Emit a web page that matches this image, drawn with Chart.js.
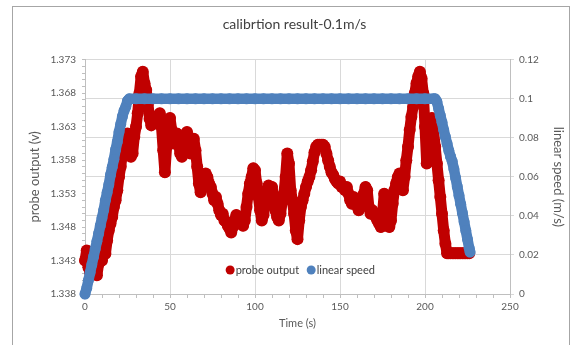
<!DOCTYPE html>
<html lang="en">
<head>
<meta charset="UTF-8">
<title>calibrtion result-0.1m/s</title>
<style>
  body { margin: 0; background: #fff; overflow: hidden; }
  .frame { position: absolute; left: 12px; top: 6px; width: 556px; height: 400px; border: 1px solid #a6a6a6; }
  #chart { position: absolute; left: 0; top: 0; }
</style>
</head>
<body>
<div class="frame"></div>
<canvas id="chart" width="571" height="345"></canvas>
<script src="https://cdn.jsdelivr.net/npm/chart.js"></script>
<script>
// probe output (V) vs time (s)
const probeTime = [
  0,1,2,3,4,5,6,7,8,9,10,11,12,13,14,15,16,17,18,19,20,21,22,23,24,25,26,27,28,29,
  30,31,32,33,34,35,36,37,38,39,40,41,42,43,44,45,46,47,48,49,50,51,52,53,54,55,56,57,58,59,
  60,61,62,63,64,65,66,67,68,69,70,71,72,73,74,75,76,77,78,79,80,81,82,83,84,85,86,87,88,89,
  90,91,92,93,94,95,96,97,98,99,100,101,102,103,104,105,106,107,108,109,110,111,112,113,114,115,116,117,118,119,
  120,121,122,123,124,125,126,127,128,129,130,131,132,133,134,135,136,137,138,139,140,141,142,143,144,145,146,147,148,149,
  150,151,152,153,154,155,156,157,158,159,160,161,162,163,164,165,166,167,168,169,170,171,172,173,174,175,176,177,178,179,
  180,181,182,183,184,185,186,187,188,189,190,191,192,193,194,195,196,197,198,199,200,201,202,203,204,205,206,207,208,209,
  210,211,212,213,214,215,216,217,218,219,220,221,222,223,224,225,226
];
const probeVolt = [
  1.3430,1.3445,1.3420,1.3412,1.3425,1.3410,1.3420,1.3408,1.3425,1.3435,1.3430,1.3445,1.3440,1.3460,1.3475,1.3485,1.3495,1.3510,1.3520,1.3535,1.3555,1.3570,1.3590,1.3600,1.3610,1.3620,1.3600,1.3585,1.3590,1.3615,
  1.3630,1.3650,1.3680,1.3705,1.3712,1.3695,1.3685,1.3665,1.3642,1.3632,1.3640,1.3645,1.3635,1.3640,1.3650,1.3630,1.3595,1.3562,1.3600,1.3635,1.3643,1.3625,1.3605,1.3610,1.3620,1.3605,1.3590,1.3585,1.3600,1.3615,
  1.3622,1.3610,1.3590,1.3605,1.3612,1.3595,1.3570,1.3545,1.3532,1.3540,1.3555,1.3560,1.3555,1.3545,1.3540,1.3530,1.3520,1.3525,1.3515,1.3505,1.3498,1.3500,1.3490,1.3488,1.3482,1.3478,1.3472,1.3480,1.3490,1.3498,
  1.3495,1.3485,1.3490,1.3482,1.3490,1.3510,1.3530,1.3545,1.3555,1.3568,1.3565,1.3545,1.3525,1.3505,1.3490,1.3498,1.3515,1.3535,1.3542,1.3535,1.3540,1.3525,1.3505,1.3495,1.3490,1.3500,1.3518,1.3530,1.3555,1.3590,
  1.3575,1.3535,1.3520,1.3500,1.3475,1.3462,1.3490,1.3510,1.3520,1.3530,1.3540,1.3548,1.3555,1.3565,1.3578,1.3592,1.3600,1.3603,1.3603,1.3603,1.3603,1.3600,1.3590,1.3580,1.3570,1.3562,1.3558,1.3552,1.3548,1.3545,
  1.3548,1.3540,1.3540,1.3535,1.3540,1.3530,1.3520,1.3515,1.3525,1.3520,1.3512,1.3505,1.3510,1.3520,1.3530,1.3540,1.3535,1.3510,1.3500,1.3505,1.3500,1.3495,1.3490,1.3485,1.3480,1.3500,1.3530,1.3510,1.3490,1.3480,
  1.3490,1.3515,1.3535,1.3545,1.3555,1.3560,1.3545,1.3535,1.3555,1.3580,1.3600,1.3625,1.3645,1.3660,1.3680,1.3695,1.3705,1.3712,1.3702,1.3680,1.3630,1.3575,1.3590,1.3630,1.3643,1.3625,1.3600,1.3575,1.3550,1.3525,
  1.3500,1.3475,1.3455,1.3441,1.3441,1.3441,1.3441,1.3441,1.3441,1.3441,1.3441,1.3441,1.3441,1.3441,1.3441,1.3441,1.3441
];

// linear speed (m/s) vs time (s)
const speedTime = [
  0,1,2,3,4,5,6,7,8,9,10,11,12,13,14,15,16,17,18,19,20,21,22,23,24,25,26,
  30,35,40,45,50,55,60,65,70,75,80,85,90,95,100,105,110,115,120,125,130,135,140,145,150,155,160,165,170,175,180,185,190,195,200,205,
  206,207,208,209,210,211,212,213,214,215,216,217,218,219,220,221,222,223,224,225,226,226.5
];
const speedVal = [
  0.000,0.003,0.007,0.011,0.015,0.019,0.023,0.027,0.031,0.035,0.039,0.043,0.048,0.052,0.056,0.061,0.065,0.069,0.074,0.078,0.083,0.087,0.091,0.094,0.096,0.099,0.100,
  0.1,0.1,0.1,0.1,0.1,0.1,0.1,0.1,0.1,0.1,0.1,0.1,0.1,0.1,0.1,0.1,0.1,0.1,0.1,0.1,0.1,0.1,0.1,0.1,0.1,0.1,0.1,0.1,0.1,0.1,0.1,0.1,0.1,0.1,0.1,0.1,
  0.100,0.0985,0.095,0.0915,0.088,0.084,0.0805,0.077,0.0735,0.0705,0.068,0.064,0.0595,0.055,0.0505,0.046,0.0415,0.037,0.0325,0.028,0.0235,0.0215
];

const timeTicks = [0, 50, 100, 150, 200, 250];
const voltTicks = ['1.338', '1.343', '1.348', '1.353', '1.358', '1.363', '1.368', '1.373'];
const speedTicks = ['0', '0.02', '0.04', '0.06', '0.08', '0.1', '0.12'];

const RED = '#c00000';
const BLUE = '#4f81bd';
const TICK = '#595959';
const GRID = '#d9d9d9';
const AXIS = '#bfbfbf';
const FONT = 'Lato, "Open Sans", sans-serif';

// legend drawn inside the plot, bottom centre
const inlineLegend = {
  id: 'inlineLegend',
  afterDraw(chart) {
    const ctx = chart.ctx;
    const area = chart.chartArea;
    const items = chart.data.datasets.map(d => ({ text: d.label, color: d.backgroundColor }));
    ctx.save();
    ctx.font = '11px ' + FONT;
    let total = 0;
    items.forEach((it, i) => { total += 9.5 + ctx.measureText(it.text).width + (i < items.length - 1 ? 8 : 0); });
    let x = (area.left + area.right) / 2 + 3 - total / 2;
    const y = area.bottom - 24;
    items.forEach(it => {
      ctx.fillStyle = it.color;
      ctx.beginPath();
      ctx.arc(x + 4, y, 4.5, 0, Math.PI * 2);
      ctx.fill();
      ctx.fillStyle = '#404040';
      ctx.textBaseline = 'middle';
      ctx.textAlign = 'left';
      ctx.fillText(it.text, x + 9.5, y);
      x += 9.5 + ctx.measureText(it.text).width + 8;
    });
    ctx.restore();
  }
};

const ctx = document.getElementById('chart').getContext('2d');
new Chart(ctx, {
  type: 'scatter',
  data: {
    datasets: [
      {
        label: 'probe output',
        data: probeTime.map((t, i) => ({ x: t, y: probeVolt[i] })),
        yAxisID: 'y',
        showLine: true,
        borderColor: RED,
        backgroundColor: RED,
        borderWidth: 11,
        borderJoinStyle: 'round',
        borderCapStyle: 'round',
        pointRadius: 6,
        pointBorderWidth: 0,
        order: 2,
        clip: false
      },
      {
        label: 'linear speed',
        data: speedTime.map((t, i) => ({ x: t, y: speedVal[i] })),
        yAxisID: 'y1',
        showLine: true,
        borderColor: BLUE,
        backgroundColor: BLUE,
        borderWidth: 10.5,
        borderJoinStyle: 'round',
        borderCapStyle: 'round',
        pointRadius: 5.5,
        pointBorderWidth: 0,
        order: 1,
        clip: false
      }
    ]
  },
  options: {
    responsive: false,
    animation: false,
    layout: { padding: { left: 20, right: 2, top: 6, bottom: 6 } },
    plugins: {
      legend: { display: false },
      tooltip: { enabled: false },
      title: {
        display: true,
        text: 'calibrtion result-0.1m/s',
        color: '#404040',
        font: { family: FONT, size: 14, weight: 'normal' },
        padding: { top: 10, bottom: 27 }
      }
    },
    scales: {
      x: {
        type: 'linear',
        min: 0,
        max: 250,
        ticks: {
          stepSize: 10,
          autoSkip: false,
          maxRotation: 0,
          padding: 3,
          color: TICK,
          font: { family: FONT, size: 10 },
          callback: v => timeTicks.includes(v) ? String(v) : ''
        },
        grid: {
          color: c => (c.tick && timeTicks.includes(c.tick.value) && c.tick.value > 0 && c.tick.value < 250) ? GRID : 'rgba(0,0,0,0)',
          tickColor: AXIS,
          tickLength: 4
        },
        border: { color: AXIS },
        title: {
          display: true,
          text: 'Time (s)',
          color: TICK,
          font: { family: FONT, size: 11 },
          padding: { top: 2, bottom: 9 }
        },
        afterFit: s => { s.height = 45; }
      },
      y: {
        position: 'left',
        min: 1.338,
        max: 1.373,
        ticks: {
          stepSize: 0.001,
          maxTicksLimit: 100,
          autoSkip: false,
          padding: 6,
          color: TICK,
          font: { family: FONT, size: 10 },
          callback: v => { const s = v.toFixed(3); return voltTicks.includes(s) ? s : ''; }
        },
        grid: { drawOnChartArea: false, color: AXIS, tickLength: 3 },
        border: { color: AXIS },
        title: {
          display: true,
          text: 'probe output (v)',
          color: TICK,
          font: { family: FONT, size: 13 },
          padding: { top: 7, bottom: 2 }
        },
        afterFit: s => { s.width = 65; }
      },
      y1: {
        position: 'right',
        min: 0,
        max: 0.12,
        ticks: {
          stepSize: 0.02,
          padding: 5,
          color: TICK,
          font: { family: FONT, size: 10 },
          callback: v => { const s = String(Math.round(v * 100) / 100); return speedTicks.includes(s) ? s : ''; }
        },
        grid: { color: GRID, tickLength: 4 },
        border: { color: AXIS },
        title: {
          display: true,
          text: 'linear speed (m/s)',
          color: TICK,
          font: { family: FONT, size: 13 },
          padding: { top: 3, bottom: 2 }
        },
        afterFit: s => { s.width = 59; }
      }
    }
  },
  plugins: [inlineLegend]
});
</script>
</body>
</html>
